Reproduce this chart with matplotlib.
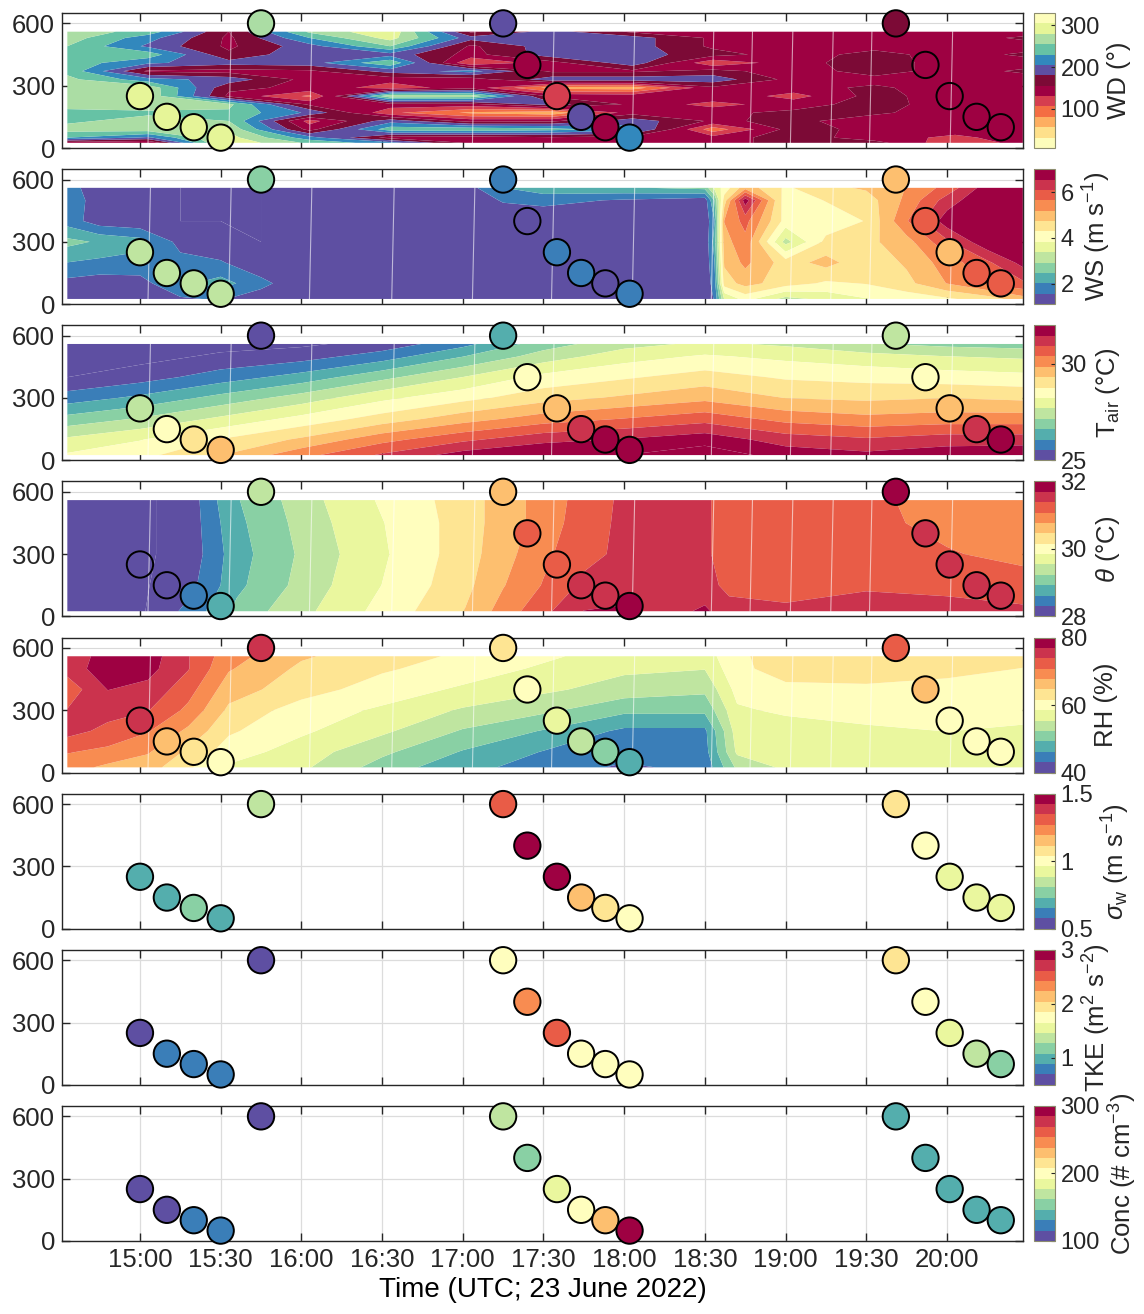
import numpy as np
import matplotlib
matplotlib.use("Agg")
import matplotlib.pyplot as plt
from matplotlib.colors import ListedColormap, Normalize
from matplotlib.cm import ScalarMappable

plt.rcParams['font.family'] = ['Liberation Sans', 'DejaVu Sans']
plt.rcParams['mathtext.fontset'] = 'custom'
plt.rcParams['mathtext.rm'] = 'Liberation Sans'
plt.rcParams['mathtext.it'] = 'Liberation Sans:italic'
plt.rcParams['mathtext.default'] = 'regular'

# ---------------- drone flights (time, altitude) ----------------
flight_time = ["15:00", "15:10", "15:20", "15:30", "15:45",
               "17:15", "17:24", "17:35", "17:44", "17:53", "18:02",
               "19:41", "19:52", "20:01", "20:11", "20:20"]
flight_alt = [250, 150, 100, 50, 600,
              600, 400, 250, 150, 100, 50,
              600, 400, 250, 150, 100]
nan = np.nan
flight_wd = [292, 292, 292, 292, 268, 192, 143, 118, 192, 143, 218, 168, nan, nan, nan, nan]
flight_ws = [3.1, 3.1, 3.1, 3.1, 2.7, 1.8, nan, 1.8, 1.8, nan, 1.8, 5.0, 5.85, 5.0, 5.85, 5.85]
flight_tair = [27.3, 28.5, 29.0, 29.5, 25.0, 26.5, 28.5, 29.8, 31.2, 31.7, 32.0, 27.3, 28.5, 29.6, 31.1, 31.7]
flight_theta = [nan, nan, 28.45, 28.8, 29.35, 30.7, 31.2, 31.15, 31.5, 31.5, 31.85, 32.0, 31.5, 31.5, 31.5, 31.5]
flight_rh = [75, 66, 63, 60, 75, 63, 60, 57, 54, 51, 48, 72, 67, 60, 60, 60]
flight_sigw = [0.72, 0.72, 0.8, 0.7, 0.82, 1.3, 1.5, 1.48, 1.15, 1.08, 0.98, 1.08, 1.0, 0.93, 0.96, 0.93]
flight_tke = [0.55, 0.7, 0.85, 0.7, 0.55, 1.75, 2.25, 2.5, 1.8, 1.8, 1.8, 2.0, 1.8, 1.5, 1.45, 1.2]
flight_conc = [105, 110, 122, 120, 105, 168, 158, 185, 200, 235, 300, 145, 145, 143, 143, 145]

# ---------------- remote-sensing profiles (time in decimal hours UTC) ----------------
# wind direction
wd_time = [14.55, 15.05, 15.55, 16.05, 16.55, 17.05, 17.55, 18.05, 18.55, 19.05, 19.55, 20.05, 20.47]
wd_alt = [25, 50, 90, 130, 170, 210, 250, 290, 330, 370, 410, 450, 490, 530, 560]
wd_profiles = [
    [140, 230, 265, 250, 245, 268, 270, 270, 262, 248, 245, 248, 255, 268, 270],
    [130, 200, 270, 265, 250, 270, 275, 272, 215, 150, 210, 245, 200, 215, 245],
    [300, 290, 275, 255, 250, 262, 150, 160, 195, 145, 190, 160, 150, 150, 155],
    [250, 215, 145, 120, 200, 150, 100, 150, 145, 150, 195, 200, 195, 230, 260],
    [215, 145, 245, 195, 110, 145, 275, 115, 140, 190, 250, 195, 255, 290, 300],
    [150, 140, 250, 145, 75, 145, 270, 145, 140, 215, 105, 145, 150, 190, 150],
    [150, 150, 240, 150, 60, 190, 150, 70, 195, 150, 145, 195, 195, 195, 190],
    [145, 145, 215, 195, 145, 150, 145, 65, 195, 150, 195, 192, 192, 192, 150],
    [145, 140, 90, 150, 150, 120, 150, 150, 195, 165, 110, 165, 150, 150, 150],
    [165, 170, 168, 162, 160, 145, 120, 145, 145, 140, 145, 142, 145, 150, 140],
    [165, 140, 145, 140, 160, 165, 165, 160, 145, 168, 170, 165, 145, 140, 140],
    [110, 125, 140, 140, 140, 142, 140, 140, 140, 142, 140, 142, 140, 140, 140],
    [140, 140, 140, 140, 140, 140, 140, 140, 140, 160, 140, 160, 140, 160, 140],
]

# wind speed
ws_time = [14.55, 14.75, 15.0, 15.25, 15.5, 15.75, 16.0, 17.0, 17.25, 17.5, 18.0, 18.5,
           18.56, 18.62, 18.75, 19.0, 19.25, 19.5, 19.75, 20.0, 20.25, 20.47]
ws_alt = [25, 100, 200, 300, 400, 500, 560]
ws_profiles = [
    [1.2, 1.4, 2.0, 2.6, 1.8, 2.0, 1.8],
    [1.2, 1.3, 1.9, 2.4, 1.3, 1.2, 1.2],
    [1.2, 1.4, 1.8, 2.2, 1.2, 1.2, 1.2],
    [1.5, 1.9, 1.7, 1.4, 1.1, 1.1, 1.1],
    [1.6, 2.2, 1.6, 1.2, 1.1, 1.1, 1.1],
    [1.3, 1.7, 1.2, 1.1, 1.1, 1.1, 1.1],
    [1.2, 1.2, 1.2, 1.2, 1.2, 1.2, 1.2],
    [1.2, 1.2, 1.2, 1.2, 1.2, 1.2, 1.3],
    [1.2, 1.2, 1.2, 1.2, 1.2, 1.6, 2.0],
    [1.2, 1.2, 1.2, 1.2, 1.2, 1.7, 2.3],
    [1.2, 1.2, 1.2, 1.2, 1.2, 1.5, 2.4],
    [1.2, 1.2, 1.2, 1.2, 1.2, 1.3, 2.6],
    [1.6, 1.8, 2.0, 2.2, 2.0, 2.5, 3.5],
    [3.4, 4.5, 4.8, 5.0, 5.2, 4.5, 4.0],
    [4.0, 4.9, 5.3, 5.5, 5.8, 6.8, 5.0],
    [3.2, 4.5, 4.5, 3.2, 4.1, 4.0, 4.2],
    [3.5, 4.2, 4.9, 4.4, 4.0, 4.3, 4.6],
    [3.8, 4.3, 4.4, 4.6, 4.3, 4.5, 4.8],
    [4.0, 4.6, 4.8, 5.0, 5.6, 5.3, 5.2],
    [4.2, 5.2, 5.4, 6.0, 6.8, 6.3, 5.8],
    [4.5, 5.7, 6.0, 6.9, 7.0, 7.0, 6.8],
    [5.0, 6.0, 6.7, 7.0, 7.0, 7.0, 7.0],
]

# air temperature
tair_time = [14.55, 15.0, 15.5, 16.0, 16.5, 17.0, 17.5, 18.0, 18.5, 19.0, 19.5, 20.0, 20.47]
tair_alt = [25, 100, 200, 300, 400, 500, 560]
tair_profiles = [
    [28.3, 27.8, 26.8, 25.8, 25.0, 24.6, 24.4],
    [28.6, 28.2, 27.2, 26.2, 25.3, 24.8, 24.5],
    [29.3, 28.8, 27.8, 26.8, 25.8, 25.1, 24.8],
    [30.2, 29.4, 28.4, 27.4, 26.3, 25.3, 24.9],
    [31.0, 30.2, 29.0, 28.1, 27.0, 25.8, 25.2],
    [31.7, 30.8, 29.6, 28.6, 27.7, 26.6, 25.9],
    [32.0, 31.3, 30.1, 29.1, 28.4, 27.4, 26.9],
    [32.0, 31.5, 30.4, 29.4, 28.7, 28.0, 27.5],
    [32.3, 31.8, 30.7, 29.7, 29.0, 28.3, 27.8],
    [31.8, 31.2, 30.2, 29.3, 28.7, 28.1, 27.6],
    [31.6, 31.0, 30.0, 29.2, 28.6, 27.9, 27.2],
    [31.8, 31.2, 30.1, 29.3, 28.5, 27.7, 27.0],
    [31.9, 31.2, 30.1, 29.2, 28.4, 27.6, 26.9],
]

# potential temperature
theta_time = [14.55, 15.0, 15.3, 15.45, 15.6, 15.85, 16.1, 16.4, 16.7, 17.0, 17.25, 17.5,
              17.75, 18.0, 18.3, 18.5, 18.65, 19.0, 19.5, 20.0, 20.47]
theta_alt = [25, 150, 300, 450, 560]
theta_profiles = [
    [27.9, 27.9, 27.9, 27.9, 27.9],
    [27.95, 27.95, 27.95, 27.95, 27.95],
    [28.4, 28.2, 28.1, 28.1, 28.1],
    [28.7, 28.5, 28.45, 28.5, 28.55],
    [29.0, 28.85, 28.8, 28.85, 28.9],
    [29.3, 29.15, 29.1, 29.15, 29.2],
    [29.55, 29.45, 29.4, 29.45, 29.5],
    [29.85, 29.75, 29.7, 29.75, 29.8],
    [30.15, 30.05, 30.0, 30.0, 30.05],
    [30.45, 30.35, 30.3, 30.3, 30.3],
    [30.9, 30.75, 30.65, 30.6, 30.6],
    [31.3, 31.1, 31.0, 30.9, 30.9],
    [31.7, 31.45, 31.3, 31.25, 31.2],
    [31.75, 31.5, 31.45, 31.45, 31.45],
    [31.6, 31.5, 31.5, 31.5, 31.5],
    [31.75, 31.5, 31.45, 31.45, 31.45],
    [31.5, 31.3, 31.2, 31.2, 31.2],
    [31.45, 31.25, 31.2, 31.2, 31.2],
    [31.5, 31.35, 31.2, 31.15, 31.15],
    [31.5, 31.3, 31.1, 31.0, 30.95],
    [31.45, 31.2, 31.0, 30.9, 30.85],
]

# relative humidity
rh_time = [14.55, 14.8, 15.05, 15.3, 15.55, 16.0, 16.5, 17.0, 17.5, 18.0, 18.5, 18.7,
           19.0, 19.5, 20.0, 20.47]
rh_alt = [25, 100, 200, 300, 400, 500, 560]
rh_profiles = [
    [69, 71, 75, 74, 72, 75, 74],
    [67, 70, 73, 75, 77, 79, 79],
    [66, 68, 71, 74, 76, 78, 78.5],
    [62, 64, 67, 70, 72, 74, 74],
    [58, 60, 62, 64, 66, 68, 69],
    [56, 57, 59, 60, 63, 64, 65],
    [51, 53, 56, 58, 60, 62, 63],
    [47, 49, 52, 55, 58, 60, 61],
    [45, 46, 49, 53, 56, 58, 59],
    [42.5, 44.5, 45.5, 50, 54, 56, 57],
    [44, 45, 45.5, 50, 53, 55.5, 57],
    [53, 56, 57, 58, 59.5, 61, 61],
    [56, 57, 57, 59, 61, 62.5, 63],
    [57, 57, 58, 59.5, 61, 63, 63.5],
    [57, 57, 58.5, 60, 61, 62, 62.5],
    [56, 57, 58, 59.5, 60.5, 61.5, 62],
]

# times of the profile boundaries (thin white seams in the gridded fields)
seam_time = [15.05, 15.55, 16.05, 16.56, 17.06, 17.55, 18.05, 18.54, 18.78, 19.03, 19.28, 19.52, 20.02]

xtick_labels = ["15:00", "15:30", "16:00", "16:30", "17:00", "17:30", "18:00",
                "18:30", "19:00", "19:30", "20:00"]


def hours(label):
    h, m = label.split(":")
    return int(h) + int(m) / 60.0


t_flight = np.array([hours(s) for s in flight_time])
z_flight = np.array(flight_alt)

# ---------------- colormaps ----------------
NB = 13
spec = plt.get_cmap('Spectral_r')
spec_cmap = ListedColormap(spec(np.linspace(0, 1, NB)))
spec_cmap.set_bad((0, 0, 0, 0))
wd_cmap = ListedColormap(['#fdfdbb', '#fee08b', '#fdae61', '#f46d43', '#d53e4f', '#9e0142',
                          '#7c0a36', '#5e4fa2', '#3288bd', '#66c2a5', '#abdda4', '#e6f598',
                          '#fdfdbb'])
wd_cmap.set_bad((0, 0, 0, 0))

panels = [
    dict(field=(wd_time, wd_alt, wd_profiles), vals=flight_wd, vmin=5, vmax=330,
         ticks=[100, 200, 300], ticklabels=['100', '200', '300'], label='WD (°)', cmap=wd_cmap),
    dict(field=(ws_time, ws_alt, ws_profiles), vals=flight_ws, vmin=1.1, vmax=7.0,
         ticks=[2, 4, 6], ticklabels=['2', '4', '6'], label='WS (m s$^{-1}$)', cmap=spec_cmap),
    dict(field=(tair_time, tair_alt, tair_profiles), vals=flight_tair, vmin=25, vmax=32,
         ticks=[25, 30], ticklabels=['25', '30'], label='T$_{air}$ (°C)', cmap=spec_cmap),
    dict(field=(theta_time, theta_alt, theta_profiles), vals=flight_theta, vmin=28, vmax=32,
         ticks=[28, 30, 32], ticklabels=['28', '30', '32'], label=r'$\mathit{θ}$ (°C)',
         cmap=spec_cmap),
    dict(field=(rh_time, rh_alt, rh_profiles), vals=flight_rh, vmin=40, vmax=80,
         ticks=[40, 60, 80], ticklabels=['40', '60', '80'], label='RH (%)', cmap=spec_cmap),
    dict(field=None, vals=flight_sigw, vmin=0.5, vmax=1.5,
         ticks=[0.5, 1, 1.5], ticklabels=['0.5', '1', '1.5'],
         label=r'$\mathit{σ}_w$ (m s$^{-1}$)', cmap=spec_cmap),
    dict(field=None, vals=flight_tke, vmin=0.5, vmax=3,
         ticks=[1, 2, 3], ticklabels=['1', '2', '3'], label='TKE (m$^2$ s$^{-2}$)',
         cmap=spec_cmap),
    dict(field=None, vals=flight_conc, vmin=100, vmax=300,
         ticks=[100, 200, 300], ticklabels=['100', '200', '300'],
         label='Conc (# cm$^{-3}$)', cmap=spec_cmap),
]

W, H = 1144, 1314
fig = plt.figure(figsize=(W / 100, H / 100), dpi=100)

ax_left, ax_right = 62, 1023
ax_h = 135
bottom0, pitch = 148, 156.14
cb_left, cb_w = 1034, 21
FS = 18.5
CB_FS = 17
frame = '#262626'

xticks = [hours(s) for s in xtick_labels]

for k, p in enumerate(panels):
    bot = bottom0 + pitch * k
    ax = fig.add_axes([ax_left / W, 1 - bot / H, (ax_right - ax_left) / W, ax_h / H])
    cmap = p['cmap']
    norm = Normalize(p['vmin'], p['vmax'])
    levels = np.linspace(p['vmin'], p['vmax'], NB + 1)

    if p['field'] is not None:
        ft, fz, fv = p['field']
        F = np.array(fv, dtype=float).T
        ax.contourf(ft, fz, F, levels=levels, cmap=cmap, norm=norm, extend='both',
                    zorder=1, antialiased=True)
        for ts in seam_time:
            ax.plot([ts, ts + 0.015], [fz[0], fz[-1]], color='white', lw=0.8,
                    alpha=0.6, zorder=2)
        ax.grid(True, axis='y', color='#d9d9d9', lw=0.8, zorder=0)
    else:
        ax.grid(True, color='#dcdcdc', lw=0.9)
    ax.set_axisbelow(True)

    ax.scatter(t_flight, z_flight, c=p['vals'], cmap=cmap, norm=norm, s=360,
               edgecolors='black', linewidths=1.4, zorder=6, clip_on=False,
               plotnonfinite=True)

    ax.set_xlim(14.517, 20.471)
    ax.set_ylim(0, 650)
    ax.set_yticks([0, 300, 600])
    ax.set_xticks(xticks)
    if k == len(panels) - 1:
        ax.set_xticklabels(xtick_labels)
        ax.set_xlabel('Time (UTC; 23 June 2022)', fontsize=20, labelpad=4)
    else:
        ax.set_xticklabels([])
    ax.tick_params(direction='in', length=6, width=1, top=True, right=True,
                   labelsize=FS, colors=frame, pad=5)
    for sp in ax.spines.values():
        sp.set_color(frame)
        sp.set_linewidth(1.0)
        sp.set_zorder(5)

    cax = fig.add_axes([cb_left / W, 1 - bot / H, cb_w / W, ax_h / H])
    cb = fig.colorbar(ScalarMappable(norm=norm, cmap=cmap), cax=cax)
    cb.set_ticks(p['ticks'])
    cb.set_ticklabels(p['ticklabels'])
    cb.ax.tick_params(direction='in', length=3, width=0.8, labelsize=CB_FS, colors=frame, pad=4)
    cb.outline.set_edgecolor('#8c8c6e')
    cb.outline.set_linewidth(0.8)
    cb.set_label(p['label'], fontsize=FS, color=frame, labelpad=5)

fig.savefig('out.png', dpi=100)
